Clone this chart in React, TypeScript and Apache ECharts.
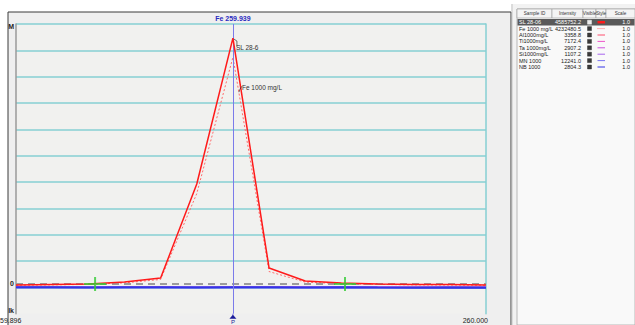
import React, { useEffect, useRef } from "react";
import * as echarts from "echarts";

// ---- data ----
const wavelengths = [259.896, 259.904, 259.912, 259.92, 259.928, 259.936, 259.944, 259.952, 259.96, 259.968, 259.976, 259.984, 259.992, 260.0];
const slValues = [44000, 53000, 65000, 100000, 177000, 1962000, 4733000, 367000, 120000, 82000, 63000, 53000, 53000, 44000];
const feValues = [40000, 48000, 56000, 85000, 150000, 1780000, 4370000, 300000, 100000, 70000, 56000, 48000, 45000, 40000];
const alValues = [12000, 10000, 11000, 14000, 12000, 9000, 13000, 10000, 12000, 11000, 9000, 12000, 10000, 11000];
const tiValues = [8000, 9000, 7000, 10000, 9000, 11000, 8000, 9000, 7000, 8000, 10000, 9000, 8000, 9000];
const taValues = [3000, 4000, 2000, 3000, 5000, 3000, 2000, 4000, 3000, 2000, 3000, 4000, 3000, 2000];
const siValues = [1000, 2000, 1000, 0, 1000, 2000, 1000, 1000, 0, 1000, 2000, 1000, 1000, 2000];
const mnValues = [-2000, -1000, 0, -1000, -2000, 0, -1000, -2000, -1000, 0, -2000, -3000, -2000, -3000];
const nbValues = [0, 0, -1000, 0, 0, -1000, 0, 0, -1000, 0, -4000, -5000, -4000, -5000];
const bgWavelengths = [259.9135, 259.9688];
const bgLevels = [63000, 63000];
const backgroundLevel = 62000;
const peakWavelength = 259.944;
const peakTitle = "Fe 259.939";
const xTickLabels = ["59.896", "260.000"];
const yMin = -500000;
const yMax = 5000000;
const yInterval = 500000;

const sampleIds = ["SL 28-06", "Fe 1000 mg/L", "Al1000mg/L", "Ti1000mg/L", "Ta 1000mg/L", "Si1000mg/L", "MN 1000", "NB 1000"];
const intensities = ["4585752.2", "4232480.5", "3358.8", "7172.4", "2907.2", "1107.2", "12241.0", "2804.3"];
const scales = ["1.0", "1.0", "1.0", "1.0", "1.0", "1.0", "1.0", "1.0"];
const headers = ["Sample ID", "Intensity", "Visible", "Style", "Scale"];
const seriesColors = ["#ff1a1a", "#ff6a6a", "#ff4f6f", "#ee55c8", "#cf52df", "#a864ee", "#7a74f2", "#3434e6"];

const zip = (ys: number[]) => wavelengths.map((w, i) => [w, ys[i]]);
const FONT = "Liberation Sans, Arial";
const PEAK_LINE = "#7b7bea";

function tableGraphics() {
  const els: any[] = [];
  const colX = [517, 552, 583, 596, 606, 635];
  const headTop = 9;
  const headH = 9;
  const rowTop = 19;
  const rowH = 6.4;
  els.push({ type: "rect", shape: { x: 513, y: 4, width: 122, height: 321 }, style: { fill: "#f2f2f2" }, z: 4 });
  els.push({ type: "line", shape: { x1: 512, y1: 4, x2: 512, y2: 325 }, style: { stroke: "#b8b8b8", lineWidth: 1 }, z: 5 });
  els.push({ type: "rect", shape: { x: 517, y: headTop, width: 118, height: 316 }, style: { fill: "#f9f9f9", stroke: "#a8a8a8", lineWidth: 0.8 }, z: 5 });
  for (let c = 0; c < headers.length; c++) {
    els.push({ type: "rect", shape: { x: colX[c], y: headTop, width: colX[c + 1] - colX[c], height: headH }, style: { fill: "#f4f4f4", stroke: "#9a9a9a", lineWidth: 0.6 }, z: 6 });
    els.push({ type: "text", x: (colX[c] + colX[c + 1]) / 2, y: headTop + headH / 2, style: { text: headers[c], fontSize: 4.6, fontFamily: FONT, fill: "#333", align: "center", verticalAlign: "middle" }, z: 7 });
  }
  for (let r = 0; r < sampleIds.length; r++) {
    const cy = rowTop + r * rowH + rowH / 2;
    const sel = r === 0;
    if (sel) {
      els.push({ type: "rect", shape: { x: 517.5, y: rowTop + r * rowH, width: 117, height: rowH }, style: { fill: "#5a5a5a" }, z: 6 });
    }
    const tc = sel ? "#ffffff" : "#222";
    els.push({ type: "text", x: 519, y: cy, style: { text: sampleIds[r], fontSize: 5.5, fontFamily: FONT, fill: tc, align: "left", verticalAlign: "middle" }, z: 7 });
    els.push({ type: "text", x: 581, y: cy, style: { text: intensities[r], fontSize: 5.5, fontFamily: FONT, fill: tc, align: "right", verticalAlign: "middle" }, z: 7 });
    els.push({ type: "rect", shape: { x: 587.5, y: cy - 2, width: 4, height: 4 }, style: { fill: sel ? "#eeeeee" : "#3a3a3a", stroke: sel ? "#fff" : "#222", lineWidth: 0.4 }, z: 7 });
    els.push({
      type: "line",
      shape: { x1: 597.5, y1: cy, x2: 605, y2: cy },
      style: { stroke: seriesColors[r], lineWidth: sel ? 2.5 : 1, lineDash: r === 1 ? [1, 1] : null },
      z: 7,
    });
    els.push({ type: "text", x: 630, y: cy, style: { text: scales[r], fontSize: 5.5, fontFamily: FONT, fill: tc, align: "right", verticalAlign: "middle" }, z: 7 });
  }
  return els;
}

export default function App() {
  const ref = useRef<HTMLDivElement>(null);
  useEffect(() => {
    if (!ref.current) return;
    const chart = echarts.init(ref.current, null, { renderer: "svg" });
    const cyan = "#86cfd3";
    const lowSeries = [alValues, tiValues, taValues, siValues, mnValues, nbValues].map((vals, i) => ({
      name: sampleIds[i + 2],
      type: "line",
      data: zip(vals),
      showSymbol: false,
      lineStyle: { color: seriesColors[i + 2], width: i >= 4 ? 2 : 1.2 },
      itemStyle: { color: seriesColors[i + 2] },
      z: 3,
    }));
    const option: any = {
      animation: false,
      backgroundColor: "#ffffff",
      textStyle: { fontFamily: FONT },
      grid: { left: 16, right: 149, top: 24, bottom: 11.3, show: true, backgroundColor: "#f1f1ef", borderWidth: 0 },
      xAxis: {
        type: "value",
        min: wavelengths[0],
        max: wavelengths[wavelengths.length - 1],
        axisLine: { show: false, onZero: false },
        axisTick: { show: false },
        axisLabel: { show: false },
        splitLine: { show: false },
      },
      yAxis: [
        {
          type: "value",
          min: yMin,
          max: yMax,
          interval: yInterval,
          axisLine: { show: true, onZero: false, lineStyle: { color: "#9a9a9a", width: 1.5 } },
          axisTick: { show: false },
          axisLabel: {
            margin: 2,
            fontSize: 7,
            fontWeight: "bold",
            color: "#222",
            formatter: (v: number) => (v === yMax ? "{m|M}" : v === 0 ? "{z|0}" : v === yMin ? "{k|lk}" : ""),
            rich: {
              m: { fontSize: 7, fontWeight: "bold", color: "#222", padding: [4, 0, 0, 0] },
              z: { fontSize: 7, fontWeight: "bold", color: "#222", padding: [0, 0, 7, 0] },
              k: { fontSize: 7, fontWeight: "bold", color: "#222", padding: [0, 0, 6, 0] },
            },
          },
          splitLine: { show: true, showMinLine: false, lineStyle: { color: cyan, width: 1.5 } },
        },
        {
          type: "value",
          position: "right",
          min: yMin,
          max: yMax,
          interval: yInterval,
          axisLine: { show: true, onZero: false, lineStyle: { color: cyan, width: 1.5 } },
          axisTick: { show: false },
          axisLabel: { show: false },
          splitLine: { show: false },
        },
      ],
      series: [
        ...lowSeries,
        {
          name: sampleIds[1],
          type: "line",
          data: zip(feValues).map((p, i) =>
            i === 6
              ? { value: p, label: { show: true, formatter: "Fe 1000 mg/L", position: "right", distance: 3, offset: [6, 30], fontSize: 6.5, color: "#333" } }
              : p
          ),
          showSymbol: true,
          symbol: "circle",
          symbolSize: 0,
          lineStyle: { color: seriesColors[1], width: 1, type: [2, 2] },
          itemStyle: { color: seriesColors[1] },
          z: 4,
        },
        {
          name: sampleIds[0],
          type: "line",
          data: zip(slValues).map((p, i) =>
            i === 6
              ? { value: p, label: { show: true, formatter: "SL 28-6", position: "right", distance: 3, offset: [0, 9], fontSize: 6.5, color: "#333" } }
              : p
          ),
          showSymbol: true,
          symbol: "circle",
          symbolSize: 0,
          lineStyle: { color: seriesColors[0], width: 1.5 },
          itemStyle: { color: seriesColors[0] },
          z: 5,
        },
        {
          name: "Background",
          type: "scatter",
          data: bgWavelengths.map((w, i) => [w, bgLevels[i]]),
          symbol: "path://M0,6h22v2h-22z M10,0h2v14h-2z",
          symbolSize: [22, 14],
          symbolKeepAspect: false,
          itemStyle: { color: "#33cc33" },
          z: 6,
          markLine: {
            silent: true,
            symbol: ["none", "none"],
            lineStyle: { color: "#9c9c9c", width: 2, type: [7, 5] },
            label: { show: false },
            data: [{ yAxis: backgroundLevel }],
          },
        },
        {
          name: "Peak",
          type: "line",
          data: [],
          z: 4,
          markLine: {
            silent: true,
            symbol: ["none", "none"],
            lineStyle: { color: PEAK_LINE, width: 1, type: "solid", opacity: 1 },
            label: { show: true, position: "end", formatter: peakTitle, color: "#2b2bc0", fontSize: 7, fontWeight: "bold", distance: 2 },
            data: [[{ coord: [peakWavelength, yMin] }, { coord: [peakWavelength, yMax] }]],
          },
        },
      ],
    };
    chart.setOption(option);
    const px = chart.convertToPixel({ xAxisIndex: 0 }, peakWavelength) as number;
    const left = chart.convertToPixel({ xAxisIndex: 0 }, wavelengths[0]) as number;
    const right = chart.convertToPixel({ xAxisIndex: 0 }, wavelengths[wavelengths.length - 1]) as number;
    const bottomY = chart.convertToPixel({ yAxisIndex: 0 }, yMin) as number;
    const slPeak = chart.convertToPixel({ xAxisIndex: 0, yAxisIndex: 0 }, [peakWavelength, slValues[6]]) as number[];
    const fePeak = chart.convertToPixel({ xAxisIndex: 0, yAxisIndex: 0 }, [peakWavelength, feValues[6]]) as number[];
    chart.setOption({
      graphic: [
        { type: "rect", shape: { x: 8, y: 12, width: 503, height: 320 }, style: { fill: "#efefef", stroke: "#3a3a3a", lineWidth: 1 }, z: -10, silent: true },
        { type: "line", shape: { x1: px, y1: bottomY, x2: px, y2: bottomY + 2 }, style: { stroke: PEAK_LINE, lineWidth: 1 }, z: 10 },
        { type: "polygon", shape: { points: [[px, bottomY + 1], [px - 3.5, bottomY + 5], [px + 3.5, bottomY + 5]] }, style: { fill: "#1a1a99" }, z: 10 },
        { type: "text", x: px, y: bottomY + 5, style: { text: "P", fontSize: 6, fill: "#1a1a99", align: "center", verticalAlign: "top", fontFamily: FONT }, z: 10 },
        { type: "text", x: left - 16, y: bottomY + 7, style: { text: xTickLabels[0], fontSize: 7, fill: "#222", align: "left", verticalAlign: "middle", fontFamily: FONT }, z: 10 },
        { type: "text", x: right + 2, y: bottomY + 7, style: { text: xTickLabels[1], fontSize: 7, fill: "#222", align: "right", verticalAlign: "middle", fontFamily: FONT }, z: 10 },
        { type: "polyline", shape: { points: [[slPeak[0] + 1, slPeak[1] + 1], [slPeak[0] + 4, slPeak[1] + 3], [slPeak[0] + 4, slPeak[1] + 8]] }, style: { stroke: "#333", lineWidth: 0.7, fill: null }, z: 10 },
        { type: "polyline", shape: { points: [[fePeak[0] + 9, fePeak[1] + 29], [fePeak[0] + 7, fePeak[1] + 32], [fePeak[0] + 6, fePeak[1] + 35]] }, style: { stroke: "#333", lineWidth: 0.7, fill: null }, z: 10 },
        ...tableGraphics(),
      ],
    });
    return () => chart.dispose();
  }, []);
  return <div ref={ref} style={{ position: "fixed", left: 0, top: 0, width: 635, height: 325 }} />;
}
